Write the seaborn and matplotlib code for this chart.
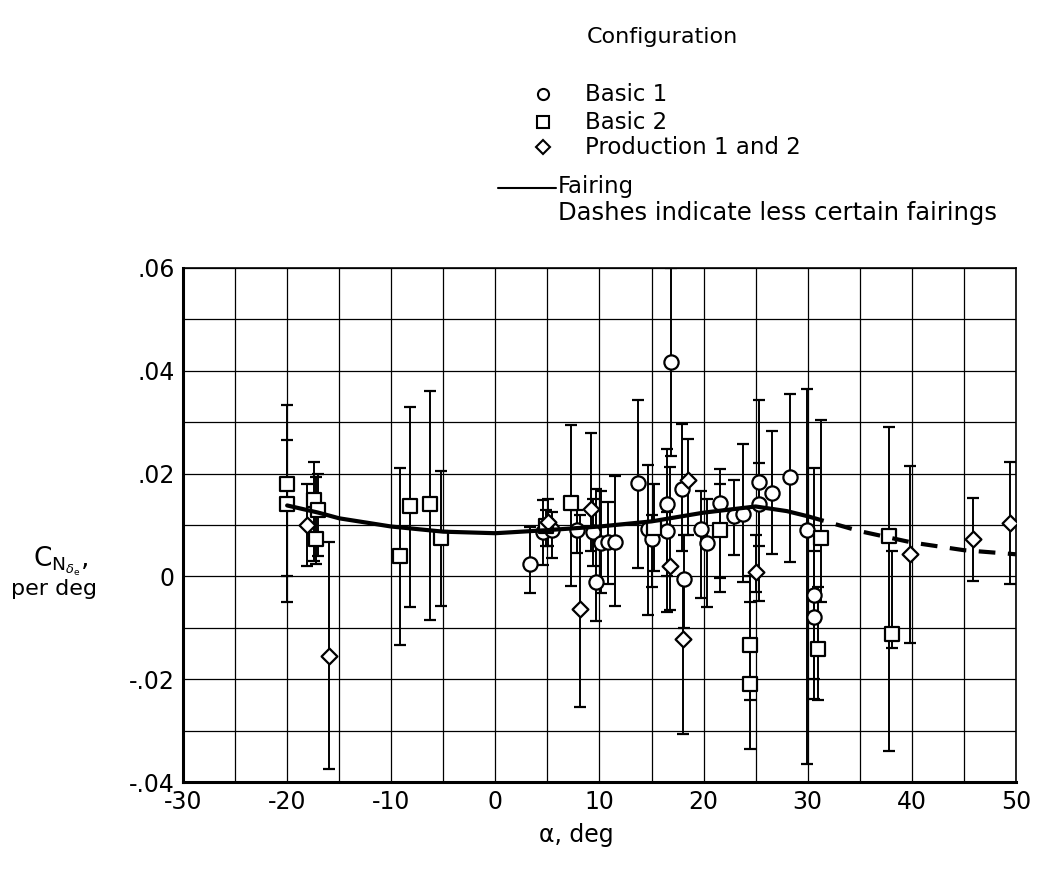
import numpy as np
import pandas as pd
import matplotlib
matplotlib.use("Agg")
import matplotlib.pyplot as plt
import seaborn as sns
from matplotlib.lines import Line2D

# ---------------- data ----------------
# Basic 1 (circles): alpha, value, error-bar low, error-bar high
b1_alpha = [3.3, 4.6, 5.4, 7.8, 9.4, 9.7, 10.1, 10.85, 11.5, 13.7, 14.7, 15.0, 16.85, 16.5, 16.5,
            17.9, 18.1, 19.8, 20.3, 21.6, 22.9, 23.8, 25.3, 25.3, 26.6, 28.3, 29.9, 30.6, 30.6]
b1_val = [0.0025, 0.0086, 0.0090, 0.0090, 0.0086, -0.0011, 0.0064, 0.0067, 0.0067, 0.0182, 0.0093, 0.0073, 0.0417, 0.0140, 0.0088,
          0.0170, -0.0005, 0.0093, 0.0064, 0.0143, 0.0117, 0.0122, 0.0183, 0.0141, 0.0163, 0.0193, 0.0090, -0.0037, -0.0079]
b1_lo = [-0.0032, 0.0023, 0.0035, 0.0045, 0.0020, -0.0087, -0.0033, -0.0014, -0.0058, 0.0016, -0.0076, -0.0020, 0.0235, -0.0070, 0.0000,
         0.0050, -0.0100, -0.0043, -0.0060, -0.0004, 0.0041, -0.0011, -0.0047, 0.0060, 0.0043, 0.0028, -0.0364, -0.0238, -0.0200]
b1_hi = [0.0096, 0.0148, 0.0125, 0.0130, 0.0150, 0.0170, 0.0167, 0.0145, 0.0196, 0.0344, 0.0216, 0.0120, 0.0600, 0.0248, 0.0125,
         0.0297, 0.0080, 0.0167, 0.0150, 0.0208, 0.0187, 0.0257, 0.0344, 0.0220, 0.0282, 0.0354, 0.0364, 0.0210, 0.0050]

# Basic 2 (squares)
b2_alpha = [-20.0, -20.0, -17.4, -17.0, -17.2, -9.2, -8.2, -6.3, -5.2, 4.9, 7.3, 15.2, 21.6, 24.5, 24.5, 31.3, 31.0, 37.8, 38.1]
b2_val = [0.0180, 0.0141, 0.0148, 0.0130, 0.0072, 0.0039, 0.0137, 0.0140, 0.0074, 0.0098, 0.0142, 0.0095, 0.0090, -0.0133, -0.0209,
          0.0075, -0.0141, 0.0078, -0.0112]
b2_lo = [-0.0050, 0.0000, 0.0030, 0.0040, 0.0025, -0.0134, -0.0060, -0.0084, -0.0058, 0.0060, -0.0018, 0.0010, -0.0030, -0.0240, -0.0335,
         -0.0050, -0.0240, -0.0340, -0.0140]
b2_hi = [0.0333, 0.0265, 0.0222, 0.0200, 0.0193, 0.0210, 0.0330, 0.0360, 0.0205, 0.0130, 0.0294, 0.0180, 0.0180, 0.0000, -0.0050,
         0.0304, -0.0020, 0.0290, 0.0050]

# Production 1 and 2 (diamonds)
pr_alpha = [-18.1, -16.0, 5.1, 8.1, 9.2, 16.8, 18.5, 18.0, 25.0, 39.8, 45.9, 49.4]
pr_val = [0.0100, -0.0154, 0.0106, -0.0063, 0.0132, 0.0021, 0.0187, -0.0121, 0.0008, 0.0044, 0.0072, 0.0103]
pr_lo = [0.0020, -0.0375, 0.0060, -0.0254, 0.0050, -0.0066, 0.0080, -0.0306, -0.0030, -0.0130, -0.0008, -0.0014]
pr_hi = [0.0180, 0.0066, 0.0150, 0.0120, 0.0278, 0.0213, 0.0268, 0.0000, 0.0080, 0.0214, 0.0152, 0.0222]

# Fairings
fair_alpha = [-20, -17, -15, -10, -5, 0, 5, 10, 15, 20, 25, 28, 30]
fair_val = [0.0138, 0.0124, 0.0113, 0.0097, 0.0087, 0.0084, 0.0090, 0.0097, 0.0107, 0.0124, 0.0136, 0.0127, 0.0117]
dash_alpha = [30, 35, 40, 45, 50]
dash_val = [0.0117, 0.0088, 0.0066, 0.0051, 0.0043]

x_ticks = [-30, -20, -10, 0, 10, 20, 30, 40, 50]
y_ticks = [-0.04, -0.02, 0.0, 0.02, 0.04, 0.06]
y_tick_labels = ["-.04", "-.02", "0", ".02", ".04", ".06"]

# ---------------- plotting ----------------
sns.set_theme(style="white")
plt.rcParams['font.family'] = ['DejaVu Sans']
plt.rcParams['mathtext.fontset'] = 'dejavusans'
plt.rcParams['text.color'] = 'black'
plt.rcParams['axes.labelcolor'] = 'black'
plt.rcParams['xtick.color'] = 'black'
plt.rcParams['ytick.color'] = 'black'

fig = plt.figure(figsize=(10.43, 8.72), dpi=100)
ax = fig.add_axes([0.1755, 0.1032, 0.7985, 0.5895])

# grid
for gx in np.arange(-30, 51, 5):
    ax.axvline(gx, color='black', lw=0.9, zorder=0)
for gy in np.arange(-0.04, 0.0601, 0.01):
    ax.axhline(gy, color='black', lw=0.9, zorder=0)

series = [
    (b1_alpha, b1_val, b1_lo, b1_hi, 'o', 105),
    (b2_alpha, b2_val, b2_lo, b2_hi, 's', 105),
    (pr_alpha, pr_val, pr_lo, pr_hi, 'D', 65),
]
for a, v, lo, hi, m, s in series:
    a = np.array(a); v = np.array(v); lo = np.array(lo); hi = np.array(hi)
    ax.errorbar(a, v, yerr=[v - lo, hi - v], fmt='none', ecolor='black', elinewidth=1.4,
                capsize=4, capthick=1.6, zorder=2)
    df = pd.DataFrame({'alpha': a, 'val': v})
    sns.scatterplot(data=df, x='alpha', y='val', marker=m, s=s, facecolor='white',
                    edgecolor='black', linewidth=1.6, ax=ax, zorder=3)

sns.lineplot(x=fair_alpha, y=fair_val, color='black', lw=3.0, ax=ax, zorder=4)
sns.lineplot(x=dash_alpha, y=dash_val, color='black', lw=3.0, ax=ax, zorder=4,
             dashes=False, linestyle=(0, (4, 3)))

ax.set_xlim(-30, 50)
ax.set_ylim(-0.04, 0.06)
ax.set_xticks(x_ticks)
ax.set_xticklabels([str(t) for t in x_ticks])
ax.set_yticks(y_ticks)
ax.set_yticklabels(y_tick_labels)
ax.tick_params(length=0, labelsize=17, pad=6, colors='black')
ax.set_xlabel('')
ax.set_ylabel('')
for side, sp in ax.spines.items():
    sp.set_color('black')
    sp.set_linewidth(2.2 if side in ('left', 'bottom') else 1.2)

# axis titles
fig.text(0.553, 0.042, 'α, deg', ha='center', va='center', fontsize=17)
fig.text(0.058, 0.357, r'$\mathrm{C}_{\mathrm{N}_{\delta_\mathrm{e}}}$,', ha='center', va='center', fontsize=19)
fig.text(0.052, 0.325, 'per deg', ha='center', va='center', fontsize=16)

# legend (drawn manually)
fig.text(0.563, 0.957, 'Configuration', ha='left', va='center', fontsize=16)
leg_items = [('o', 'Basic 1', 0.892), ('s', 'Basic 2', 0.860), ('D', 'Production 1 and 2', 0.831)]
for m, lab, yy in leg_items:
    fig.add_artist(Line2D([0.521], [yy], marker=m, markersize=8 if m != 'D' else 7,
                          markerfacecolor='white', markeredgecolor='black', markeredgewidth=1.5,
                          linestyle='none', transform=fig.transFigure))
    fig.text(0.561, yy, lab, ha='left', va='center', fontsize=16.5)
fig.add_artist(Line2D([0.477, 0.533], [0.784, 0.784], color='black', lw=1.5, transform=fig.transFigure))
fig.text(0.535, 0.786, 'Fairing', ha='left', va='center', fontsize=16.5)
fig.text(0.535, 0.756, 'Dashes indicate less certain fairings', ha='left', va='center', fontsize=17.5)

fig.savefig('out.png', dpi=100)
